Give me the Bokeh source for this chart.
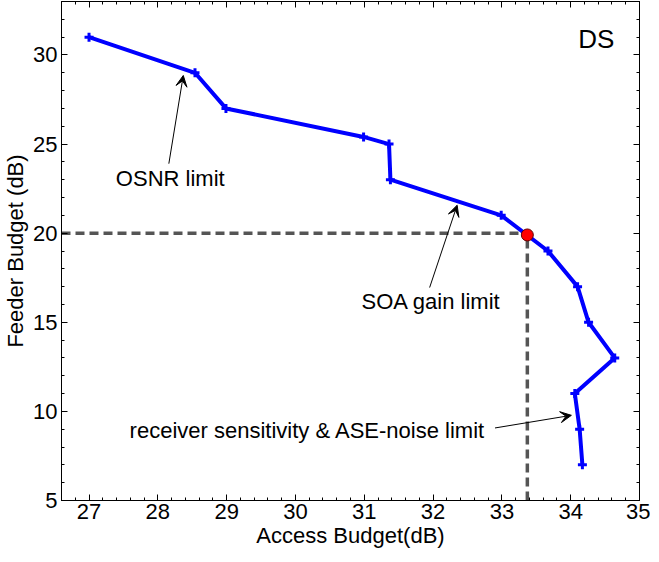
from bokeh.plotting import figure
from bokeh.models import (LinearAxis, SingleIntervalTicker, Range1d, Arrow, VeeHead,
                          ColumnDataSource, CustomJSTickFormatter)
from bokeh.core.properties import value
from bokeh.embed import file_html
from bokeh.resources import INLINE

# ---- data ----
access_budget = [27.0, 28.54, 28.99, 30.99, 31.36, 31.38, 32.99, 33.67, 34.1, 34.26, 34.64, 34.06, 34.13, 34.17]
feeder_budget = [31.0, 29.0, 27.0, 25.4, 25.0, 23.0, 21.0, 19.0, 17.0, 15.0, 13.0, 11.0, 9.0, 7.0]
op_point_x = [33.37]
op_point_y = [19.9]
guide_x = 33.37
guide_y = 20.0

labels = ["OSNR limit", "SOA gain limit", "receiver sensitivity & ASE-noise  limit"]
label_x = [27.39, 30.96, 27.59]
label_y = [23.05, 16.15, 8.9]
arrow_x0 = [28.16, 31.95, 32.9]
arrow_y0 = [23.9, 16.95, 9.07]
arrow_x1 = [28.37, 32.35, 34.01]
arrow_y1 = [28.85, 21.57, 9.78]

FONT = "Liberation Sans"
XMIN, XMAX, YMIN, YMAX = 26.6, 35.0, 5.0, 33.0

p = figure(width=650, height=554, output_backend="svg", toolbar_location=None,
           x_range=Range1d(XMIN, XMAX), y_range=Range1d(YMIN, YMAX),
           min_border_left=60, min_border_right=11, min_border_top=1, min_border_bottom=54,
           x_axis_location=None, y_axis_location=None)
p.grid.visible = False
p.outline_line_color = "black"
p.outline_line_width = 1
p.background_fill_color = "white"
p.border_fill_color = "white"

def mk_axis(kind, labels_on, label=None):
    ticker = SingleIntervalTicker(interval=1 if kind == "x" else 5, num_minor_ticks=5)
    ax = LinearAxis(ticker=ticker)
    ax.major_tick_in = 6
    ax.major_tick_out = 0
    ax.minor_tick_in = 3
    ax.minor_tick_out = 0
    ax.axis_line_color = "black"
    ax.major_tick_line_color = "black"
    ax.minor_tick_line_color = "black"
    if labels_on:
        ax.major_label_text_font = FONT
        ax.major_label_text_font_size = "22px"
        ax.major_label_text_color = "black"
        ax.major_label_standoff = 3 if kind == "x" else 4
        if label:
            ax.axis_label = label
            ax.axis_label_text_font = FONT
            ax.axis_label_text_font_size = "22px"
            ax.axis_label_text_font_style = "normal"
            ax.axis_label_text_color = "black"
            ax.axis_label_standoff = 1 if kind == "x" else 2
    else:
        ax.formatter = CustomJSTickFormatter(code="return '';")
        ax.major_label_text_font_size = "1px"
        ax.major_label_text_color = None
        ax.major_label_standoff = 0
    return ax

p.add_layout(mk_axis("x", True, "Access Budget(dB)"), "below")
p.add_layout(mk_axis("y", True, "Feeder Budget (dB)"), "left")
p.add_layout(mk_axis("x", False), "above")
p.add_layout(mk_axis("y", False), "right")

# dashed guides
p.line([XMIN, guide_x], [guide_y, guide_y], line_color="#555555", line_width=3.5, line_dash="9 5")
p.line([guide_x, guide_x], [YMIN, guide_y], line_color="#555555", line_width=3.5, line_dash="9 5")

# main curve
src = ColumnDataSource(dict(x=access_budget, y=feeder_budget))
p.line("x", "y", source=src, line_color="#0000FF", line_width=4)
p.scatter("x", "y", source=src, marker="cross", size=9, line_color="#0000FF", line_width=3)

# operating point
p.scatter(op_point_x, op_point_y, marker="circle", size=12, fill_color="#FF0000", line_color="#660000", line_width=1)

# annotations
for i in range(len(labels)):
    p.add_layout(Arrow(end=VeeHead(size=11, fill_color="black", line_color="black", line_width=1),
                       x_start=arrow_x0[i], y_start=arrow_y0[i], x_end=arrow_x1[i], y_end=arrow_y1[i],
                       line_color="black", line_width=1))
p.text(label_x, label_y, text=labels, text_font=value(FONT), text_font_size="22px",
       text_color="black", text_align="left", text_baseline="middle")
p.text([34.11], [30.9], text=["DS"], text_font=value(FONT), text_font_size="26px",
       text_color="black", text_align="left", text_baseline="middle")

open("out.html", "w").write(file_html(p, INLINE))
